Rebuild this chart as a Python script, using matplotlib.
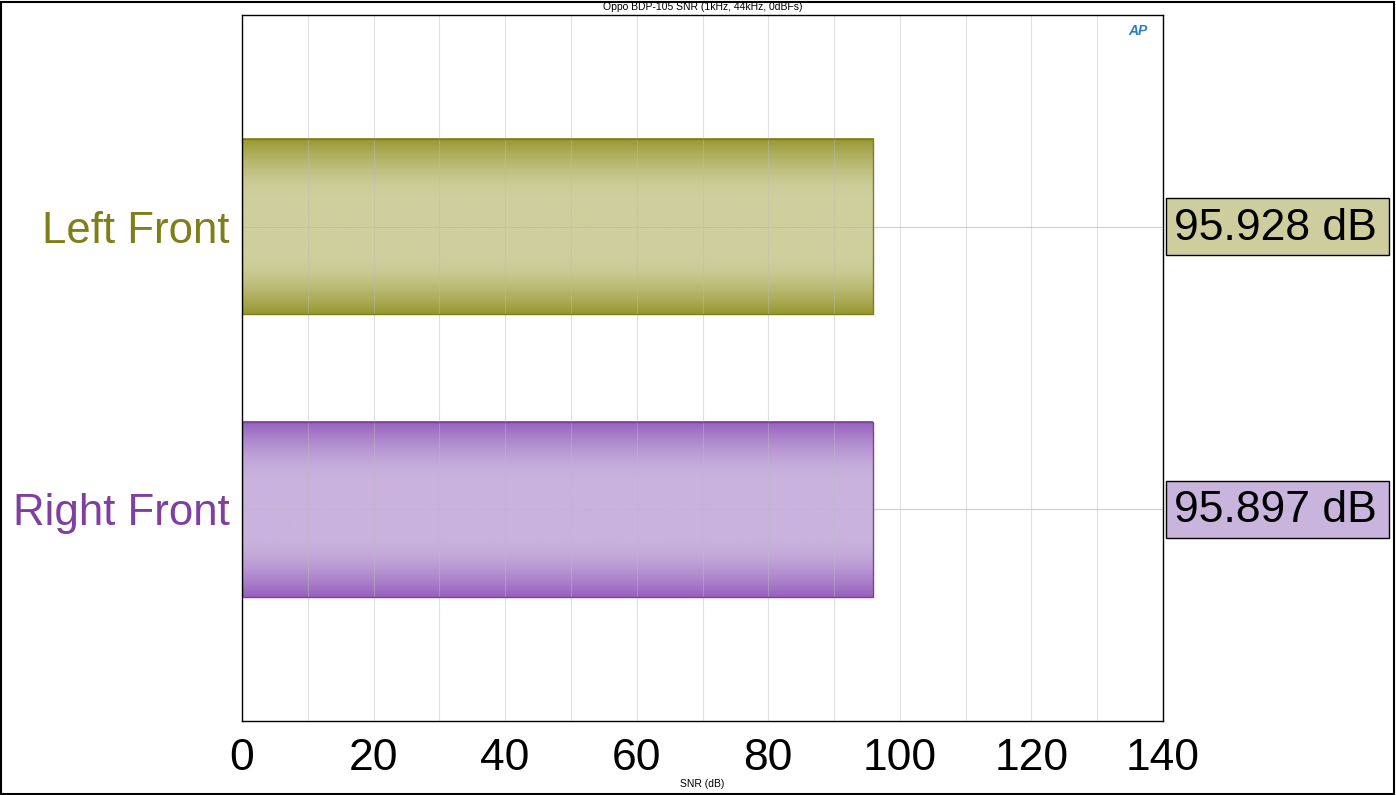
import numpy as np
import matplotlib
matplotlib.use("Agg")
import matplotlib.pyplot as plt
from matplotlib.colors import to_rgb
from matplotlib.patches import Rectangle
from matplotlib.transforms import blended_transform_factory

# ---- data ----
categories = ["Left Front", "Right Front"]
snr_values = [95.928, 95.897]
value_labels = ["95.928 dB", "95.897 dB"]
label_colors = ["#7f7f1a", "#7f3fa0"]
dark_colors = ["#979730", "#9660bd"]
light_colors = ["#cfcf9e", "#c9b2dd"]
box_colors = ["#cdcd9d", "#c8b4dc"]
x_ticks = [0, 20, 40, 60, 80, 100, 120, 140]
title = "Oppo BDP-105 SNR (1kHz, 44kHz, 0dBFs)"
xlabel = "SNR (dB)"

plt.rcParams['font.family'] = ['Liberation Sans', 'DejaVu Sans']

fig = plt.figure(figsize=(13.96, 7.95), dpi=100)
ax = fig.add_axes([242/1396, 1-721/795, 921/1396, 706/795])

bar_h = 0.62
ys = np.arange(len(categories))

# gradient profile
n = 200
t = np.linspace(0, 1, n)
d = np.abs(t - 0.5) * 2
r = np.clip((d - 0.35) / 0.65, 0, 1)
w = r ** 1.6

for y, v, dc, lc, ec in zip(ys, snr_values, dark_colors, light_colors, label_colors):
    dcr, lcr = np.array(to_rgb(dc)), np.array(to_rgb(lc))
    img = (lcr[None, :] * (1 - w[:, None]) + dcr[None, :] * w[:, None])[:, None, :]
    ax.imshow(img, extent=(0, v, y + bar_h/2, y - bar_h/2), aspect='auto',
              interpolation='bilinear', zorder=1)
    ax.add_patch(Rectangle((0, y - bar_h/2), v, bar_h, fill=False,
                           edgecolor=ec, linewidth=1.0, zorder=3))

ax.set_xlim(0, 140)
ax.set_ylim(1.75, -0.75)
ax.set_xticks(np.arange(0, 141, 10), minor=True)
ax.set_xticks(x_ticks)
ax.set_xticklabels([str(x) for x in x_ticks], fontsize=32)
ax.set_yticks(ys)
ax.set_yticklabels(categories, fontsize=31.5)
for lbl, c in zip(ax.get_yticklabels(), label_colors):
    lbl.set_color(c)
ax.tick_params(axis='both', which='both', length=0)
ax.tick_params(axis='x', pad=12)
ax.tick_params(axis='y', pad=9)

ax.grid(True, which='both', axis='x', color='#bbbbbb', linewidth=0.8, alpha=0.45, zorder=2)
ax.grid(True, which='major', axis='y', color='#bbbbbb', linewidth=0.8, alpha=0.7, zorder=2)
ax.set_axisbelow(False)
for s in ax.spines.values():
    s.set_linewidth(1.0)
    s.set_color('black')
    s.set_zorder(5)

trans = blended_transform_factory(ax.transAxes, ax.transData)
for y, txt, bc in zip(ys, value_labels, box_colors):
    ax.add_patch(Rectangle((1.0033, y - 0.101), 0.2421, 0.202, transform=trans,
                           facecolor=bc, edgecolor='black', linewidth=1.0,
                           clip_on=False, zorder=6))
    ax.text(1.0115, y + 0.005, txt, transform=trans, ha='left', va='center',
            fontsize=32, color='black', clip_on=False, zorder=7)

fig.text((242+1163)/2/1396, 1-7/795, title, ha='center', va='center', fontsize=7.5)
fig.text((242+1163)/2/1396, 1-784/795, xlabel, ha='center', va='center', fontsize=7.5)
ax.text(0.973, 0.977, "AP", transform=ax.transAxes, ha='center', va='center',
        fontsize=10, fontweight='bold', style='italic', color='#2a7fc0')

fig.patches.append(Rectangle((0.0005, 0.001), 0.998, 0.997, transform=fig.transFigure,
                             fill=False, edgecolor='black', linewidth=1.5))

fig.savefig("out.png", dpi=100)
